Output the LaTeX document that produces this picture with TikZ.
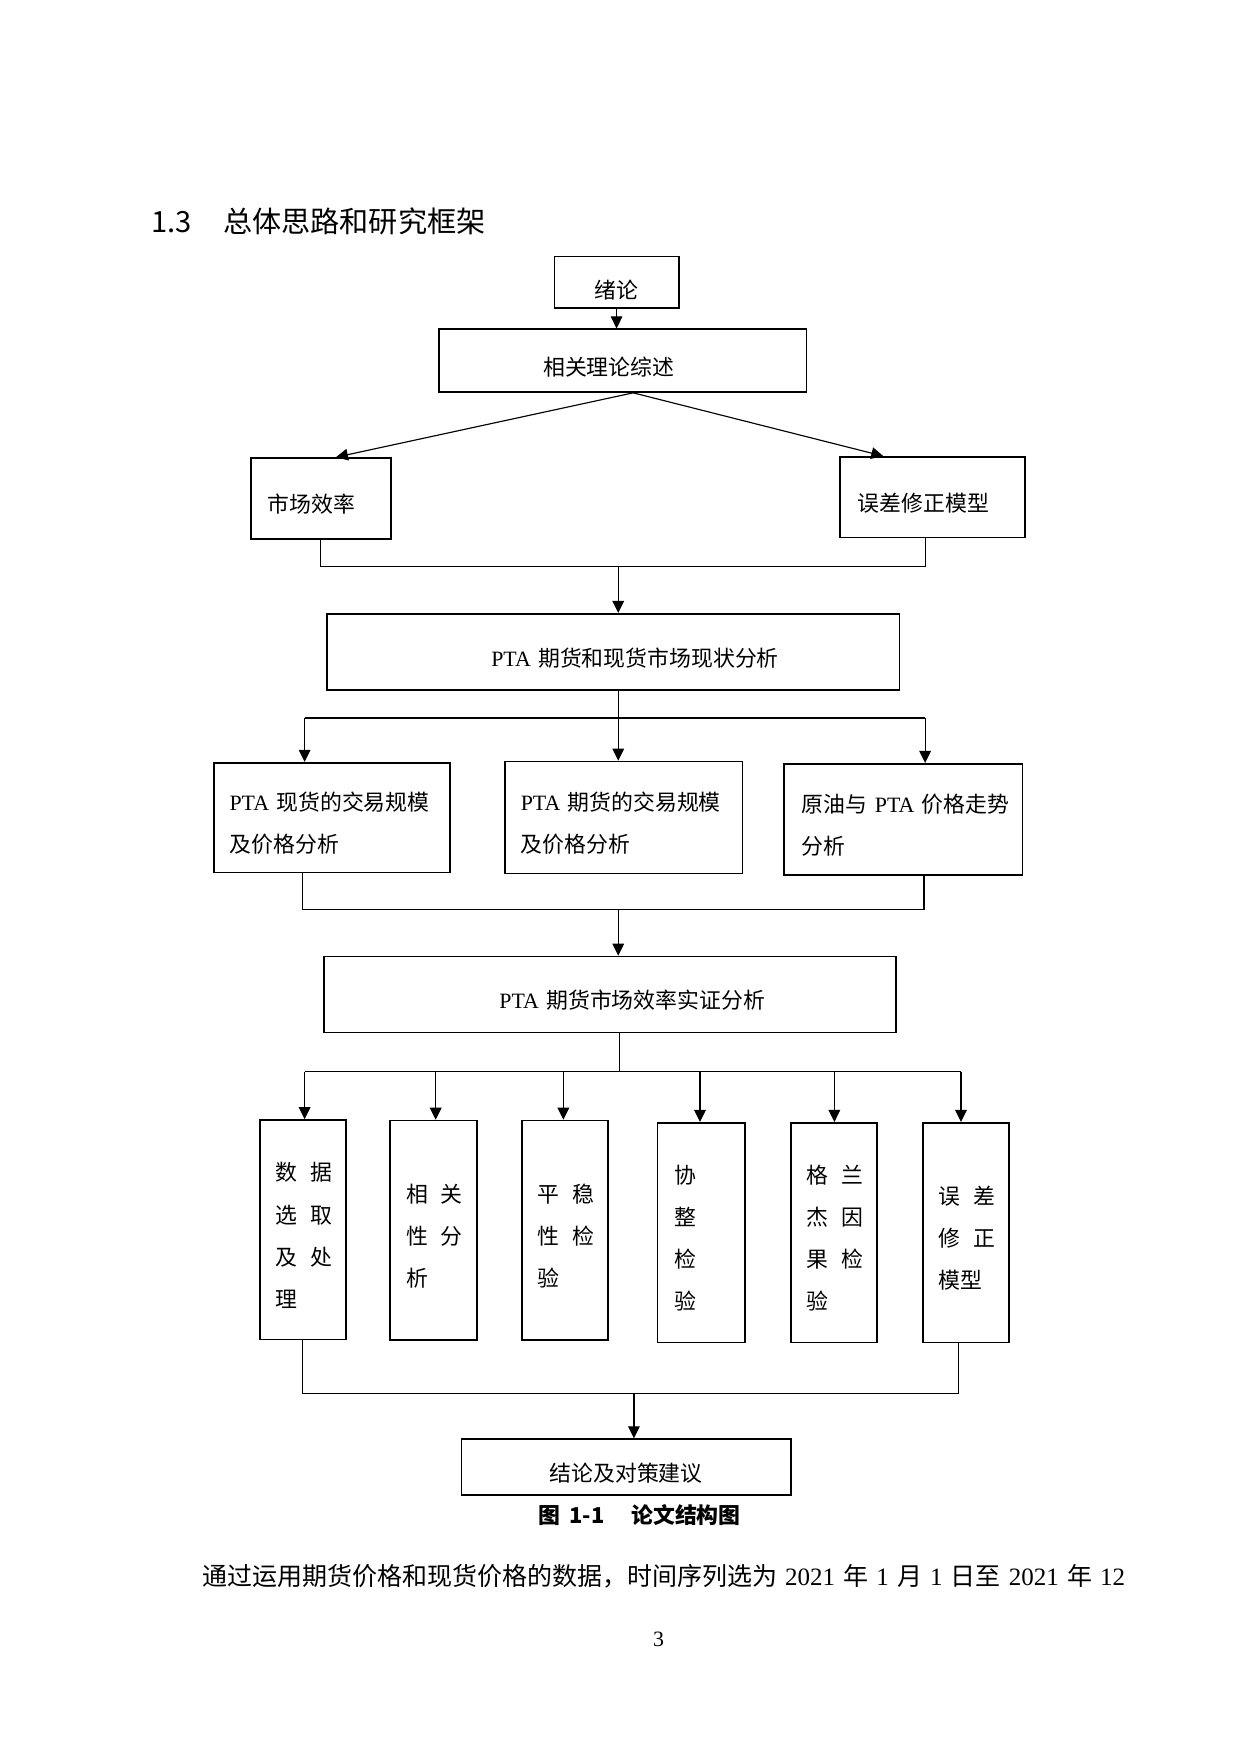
\documentclass[tikz,border=0pt]{standalone}
\usepackage{fontspec}
\setmainfont{Liberation Serif}
\newfontfamily\cjk{Noto Sans CJK SC}
\usetikzlibrary{arrows.meta}

\newcommand{\pxl}[1]{#1*0.5376pt}
\newcommand{\zh}[1]{{\cjk #1}}
\newcommand{\csp}{\kern6pt}

\tikzset{
  box/.style={draw, line width=0.8pt, inner sep=0pt, align=left,
    font=\fontsize{10.5}{20.2}\cjk},
  drop/.style={execute at end node={\vadjust{\kern-#1}}},
  one/.style={text height=#1, text depth=0pt},
  tall/.style={box, drop=5.4pt, text width=26pt, minimum height=\pxl{196}},
  link/.style={line width=0.55pt},
  arr/.style={link, -{Triangle[length=5.8pt, width=5.6pt]}},
}

\begin{document}
\begin{tikzpicture}[x=0.5376pt, y=-0.5376pt]
\useasboundingbox (0,0) rectangle (1107.14,1566.07);

\node[anchor=west, inner sep=0pt, font=\fontsize{14}{16}\cjk] (title) at (135,198) {1.3\kern14.9pt 总体思路和研究框架};

% boxes
\node[box, one=15.6pt, align=center, text width=50pt, minimum width=\pxl{111}, minimum height=\pxl{46}] (intro) at (550.5,252) {绪论};
\node[box, one=13.8pt, align=center, text width=150pt, minimum width=\pxl{328}, minimum height=\pxl{56}] (review) at (556,322) {相关理论综述\kern13.4pt};
\node[box, one=13.8pt, text width=51pt, minimum width=\pxl{125}, minimum height=\pxl{72}] (mkt) at (286.5,445) {市场效率};
\node[box, one=13.8pt, text width=71.5pt, minimum width=\pxl{165}, minimum height=\pxl{72}] (ecm) at (832.5,444) {误差修正模型};
\node[box, one=13.8pt, align=center, text width=250pt, minimum width=\pxl{511}, minimum height=\pxl{68}] (status) at (547.5,582) {\hspace*{21pt}{\rmfamily PTA} 期货和现货市场现状分析};

\node[box, drop=5.4pt, text width=98.4pt, minimum width=\pxl{211}, minimum height=\pxl{98}] (spot) at (296.5,730) {{\rmfamily PTA}~现货的交易规模\\及价格分析};
\node[box, drop=5.4pt, text width=98.9pt, minimum width=\pxl{212}, minimum height=\pxl{100}] (fut) at (557,730) {{\rmfamily PTA}~期货的交易规模\\及价格分析};
\node[box, drop=5.4pt, text width=97.3pt, minimum width=\pxl{213}, minimum height=\pxl{99}] (crude) at (806.5,731.5) {原油与~{\rmfamily PTA}~价格走势\\分析};

\node[box, one=13.8pt, align=center, text width=250pt, minimum width=\pxl{511}, minimum height=\pxl{68}] (eff) at (544.5,888) {\hspace*{21.5pt}{\rmfamily PTA} 期货市场效率实证分析};

\node[tall, minimum width=\pxl{77}] (d1) at (270.5,1098) {数\csp 据\\选\csp 取\\及\csp 处\\理};
\node[tall, minimum width=\pxl{78}] (d2) at (387,1098.5) {相\csp 关\\性\csp 分\\析};
\node[tall, minimum width=\pxl{77}] (d3) at (504.5,1098.5) {平\csp 稳\\性\csp 检\\验};
\node[tall, minimum width=\pxl{78}] (d4) at (626,1100.5) {协\\整\\检\\验};
\node[tall, minimum width=\pxl{77}] (d5) at (744.5,1100.5) {格\csp 兰\\杰\csp 因\\果\csp 检\\验};
\node[tall, minimum width=\pxl{77}] (d6) at (862.5,1100.5) {误\csp 差\\修\csp 正\\模型};

\node[box, one=13.8pt, align=center, text width=140pt, minimum width=\pxl{294}, minimum height=\pxl{50}] (concl) at (559,1310) {结论及对策建议};

\node[inner sep=0pt, font=\fontsize{10.5}{12}\cjk\bfseries] (cap) at (571,1353) {图\kern4.5pt 1-1\kern12.8pt 论文结构图};
\node[anchor=west, inner sep=0pt, font=\fontsize{12}{14}\selectfont] (body) at (180,1407) {\spaceskip=3.9pt\relax\zh{通过运用期货价格和现货价格的数据，时间序列选为} 2021 \zh{年} 1 \zh{月} 1 \zh{日至} 2021 \zh{年} 12};
\node[inner sep=0pt, font=\fontsize{10.5}{12}\selectfont] (page) at (588,1464) {3};

% connectors
\draw[arr] (intro.south) -- (intro.south |- review.north);
\draw[arr] (review.288) -- (mkt.70);
\draw[arr] (review.288) -- (ecm.140);

\coordinate (m1) at (286.5,506); \coordinate (m0) at (552,506); \coordinate (m2) at (826,506);
\draw[link] (mkt.south) -- (m1) -- (m2) -- (m2 |- ecm.south);
\draw[arr] (m0) -- (m0 |- status.north);

\coordinate (n1) at (272,641); \coordinate (n0) at (552,641); \coordinate (n2) at (826,641);
\draw[link] (n0 |- status.south) -- (n0);
\draw[link] (n1) -- (n2);
\foreach \c/\b in {n1/spot, n0/fut, n2/crude}
  \draw[arr] (\c) -- (\c |- \b.north);

\coordinate (p1) at (270,812); \coordinate (p0) at (552,812); \coordinate (p2) at (825,812);
\draw[link] (p1 |- spot.south) -- (p1) -- (p2) -- (p2 |- crude.south);
\draw[arr] (p0) -- (p0 |- eff.north);

\coordinate (q0) at (553,957);
\draw[link] (q0 |- eff.south) -- (q0);
\foreach \x/\b in {272/d1, 389/d2, 503/d3, 625/d4, 745/d5, 858/d6} {
  \coordinate (t\b) at (\x,957);
  \draw[arr] (t\b) -- (t\b |- \b.north);
}
\draw[link] (td1) -- (td6);

\coordinate (u1) at (270,1244); \coordinate (u0) at (566,1244); \coordinate (u2) at (856,1244);
\draw[link] (u1 |- d1.south) -- (u1) -- (u2) -- (u2 |- d6.south);
\draw[arr] (u0) -- (u0 |- concl.north);
\end{tikzpicture}
\end{document}
